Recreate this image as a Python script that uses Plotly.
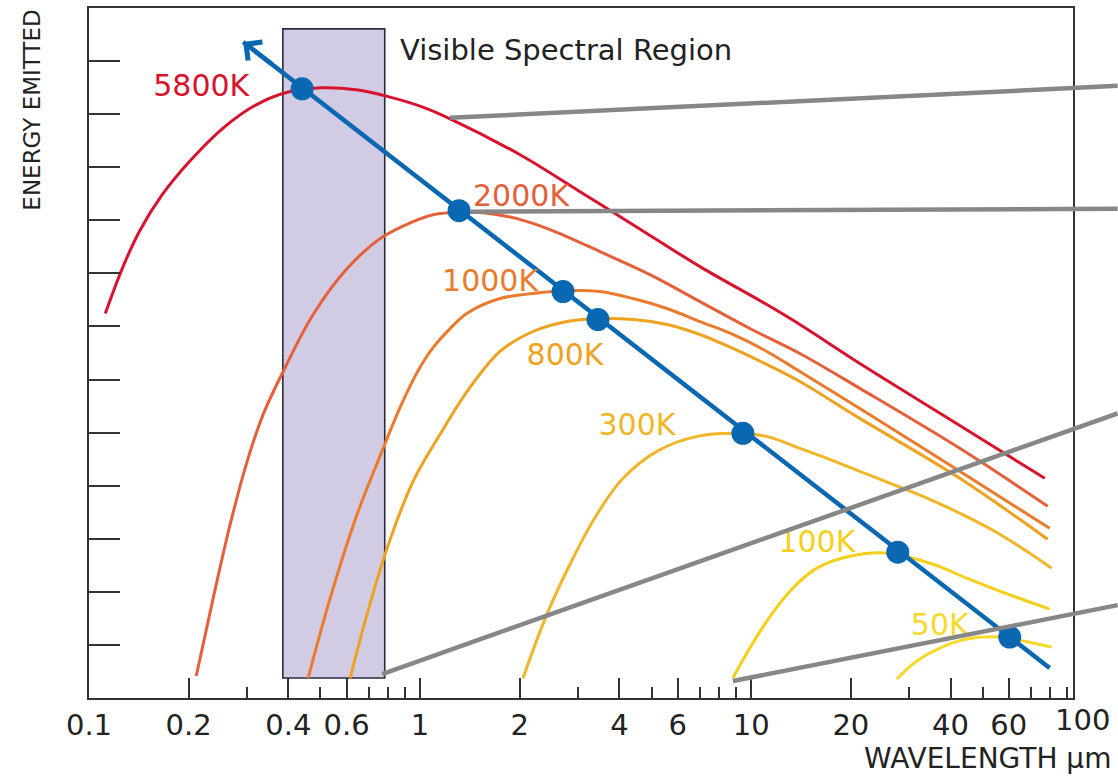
import numpy as np
import plotly.graph_objects as go

# ---------------- axes ----------------
X_RANGE_LOG = [-1.0, 1.972]      # log10(µm)
Y_RANGE = [0, 13]

major_ticks = [0.1, 0.2, 0.4, 0.6, 1, 2, 4, 6, 10, 20, 40, 60]
major_labels = ["0.1", "0.2", "0.4", "0.6", "1", "2", "4", "6", "10", "20", "40", "60"]
minor_ticks = [0.3, 0.5, 0.7, 0.8, 0.9, 3, 5, 7, 8, 9, 30, 50, 70, 80, 90]
extra_label_value = 100
extra_label_text = "100"
y_ticks = [1, 2, 3, 4, 5, 6, 7, 8, 9, 10, 11, 12]

# ---------------- black-body curves (wavelength µm, energy arbitrary) ----------------
wl_5800 = [0.112, 0.126, 0.1418, 0.1664, 0.2008, 0.2526, 0.3198, 0.4023, 0.506, 0.6409,
           0.8061, 1.014, 1.232, 2.004, 3.041, 4.395, 7.003, 11.15, 14.03, 21.29, 42.65, 77.0]
en_5800 = [7.244, 8.09, 8.786, 9.483, 10.103, 10.724, 11.176, 11.421, 11.496, 11.458,
           11.326, 11.138, 10.913, 10.235, 9.539, 8.918, 8.128, 7.413, 7.037, 6.303, 5.136, 4.139]

wl_2000 = [0.2108, 0.2372, 0.267, 0.3004, 0.3358, 0.3859, 0.4754, 0.602, 0.7572, 0.9525,
           1.094, 1.232, 1.549, 1.963, 2.469, 3.494, 4.946, 7.003, 9.91, 14.03, 21.29, 42.65, 78.6]
en_2000 = [0.414, 1.881, 3.274, 4.459, 5.343, 6.152, 7.225, 8.09, 8.655, 8.975,
           9.106, 9.144, 9.144, 9.031, 8.824, 8.41, 7.977, 7.469, 6.961, 6.491, 5.833, 4.704, 3.612]

wl_1000 = [0.4591, 0.5351, 0.6454, 0.7735, 0.8702, 0.9794, 1.094, 1.232, 1.387, 1.744,
           2.193, 2.778, 3.494, 4.395, 5.566, 7.003, 8.806, 11.15, 14.03, 21.29, 42.65, 79.7]
en_1000 = [0.376, 1.881, 3.462, 4.704, 5.475, 6.134, 6.6, 6.96, 7.25, 7.526,
           7.62, 7.676, 7.658, 7.526, 7.338, 7.093, 6.849, 6.529, 6.152, 5.456, 4.271, 3.198]

wl_800 = [0.6148, 0.6918, 0.795, 0.9525, 1.173, 1.387, 1.744, 2.193, 2.778, 3.494,
          4.395, 5.566, 7.003, 8.806, 11.15, 14.03, 21.29, 42.65, 78.6]
en_800 = [0.376, 1.58, 2.822, 4.083, 5.06, 5.776, 6.529, 6.905, 7.093, 7.15,
          7.131, 7.037, 6.849, 6.585, 6.284, 5.964, 5.268, 4.139, 2.992]

wl_300 = [2.046, 2.417, 2.896, 3.422, 4.101, 5.193, 6.858, 9.44, 11.39, 14.03,
          16.93, 21.29, 26.77, 34.63, 42.65, 56.32, 80.8]
en_300 = [0.376, 1.58, 2.634, 3.462, 4.139, 4.647, 4.929, 4.986, 4.911, 4.704,
          4.516, 4.271, 4.026, 3.744, 3.481, 3.086, 2.446]

wl_100 = [8.806, 9.91, 11.15, 13.09, 15.79, 19.86, 26.22, 35.35, 44.78, 56.32, 79.7]
en_100 = [0.376, 0.941, 1.449, 2.013, 2.446, 2.672, 2.728, 2.521, 2.258, 2.013, 1.675]

wl_50 = [27.53, 31.64, 37.12, 44.78, 56.32, 70.85, 80.8]
en_50 = [0.357, 0.696, 0.941, 1.11, 1.148, 1.035, 0.96]

curve_names = ["5800K", "2000K", "1000K", "800K", "300K", "100K", "50K"]
curve_colors = ["#d7132e", "#e4603b", "#ea7b2d", "#eea21f", "#f1b52a", "#f5cf1a", "#f6d92a"]
curve_wl = [wl_5800, wl_2000, wl_1000, wl_800, wl_300, wl_100, wl_50]
curve_en = [en_5800, en_2000, en_1000, en_800, en_300, en_100, en_50]

# label positions for each curve
label_wl = [0.2183, 2.018, 1.627, 2.74, 4.519, 15.79, 37.12]
label_en = [11.477, 9.407, 7.808, 6.416, 5.099, 2.897, 1.336]

# ---------------- Wien displacement line and peaks ----------------
peak_wl = [0.4403, 1.311, 2.702, 3.445, 9.44, 27.72, 60.38]
peak_en = [11.477, 9.182, 7.658, 7.131, 4.986, 2.747, 1.148]
wien_wl = [79.7, 0.2922]
wien_en = [0.564, 12.361]

# ---------------- visible band ----------------
visible_wl = [0.385, 0.782]
visible_en = [0.376, 12.606]
visible_text = "Visible Spectral Region"
visible_text_wl = 0.858
visible_text_en = 12.21

# ---------------- grey call-out lines (start inside plot, run off to the right) ----------------
callout_start_wl = [1.232, 1.416, 0.7679, 8.806]
callout_start_en = [10.931, 9.163, 0.4516, 0.320]
callout_end_wl = [127.9, 127.9, 127.9, 127.9]
callout_end_en = [11.533, 9.219, 5.362, 1.750]

FONT = "DejaVu Sans, Verdana, sans-serif"
FRAME = "#333333"
BLUE = "#0a67b2"
GREY = "#878787"
TEXT = "#222222"


def px_x(v):
    return (np.log10(v) - X_RANGE_LOG[0]) / (X_RANGE_LOG[1] - X_RANGE_LOG[0])


def px_y(v):
    return (v - Y_RANGE[0]) / (Y_RANGE[1] - Y_RANGE[0])


fig = go.Figure()

# visible band rectangle (below curves)
fig.add_shape(type="rect", xref="x", yref="y",
              x0=visible_wl[0], x1=visible_wl[1], y0=visible_en[0], y1=visible_en[1],
              fillcolor="#d1cbe4", line=dict(color="#2b2b3b", width=1.6), layer="below")

for name, col, wl, en in zip(curve_names, curve_colors, curve_wl, curve_en):
    fig.add_trace(go.Scatter(x=wl, y=en, mode="lines", name=name,
                             line=dict(color=col, width=3, shape="spline", smoothing=1.0),
                             hoverinfo="skip", showlegend=False))

# Wien line
fig.add_trace(go.Scatter(x=wien_wl, y=wien_en, mode="lines",
                         line=dict(color=BLUE, width=4.5), showlegend=False, hoverinfo="skip"))
fig.add_trace(go.Scatter(x=peak_wl, y=peak_en, mode="markers",
                         marker=dict(color=BLUE, size=23, line=dict(width=0)),
                         showlegend=False, hoverinfo="skip"))

# curve labels
fig.add_trace(go.Scatter(x=label_wl, y=label_en, mode="text", text=curve_names,
                         textposition="middle center",
                         textfont=dict(family=FONT, size=30, color=curve_colors),
                         showlegend=False, hoverinfo="skip"))

# arrow head at the end of the Wien line
tip_lx = np.log10(wien_wl[1])
tail_lx = np.log10(wien_wl[0])
back_lx = tip_lx + 0.09
back_en = np.interp(back_lx, [tip_lx, tail_lx], [wien_en[1], wien_en[0]])
fig.add_annotation(x=tip_lx, y=wien_en[1], ax=back_lx, ay=back_en,
                   xref="x", yref="y", axref="x", ayref="y", text="",
                   showarrow=True, arrowhead=4, arrowsize=1, arrowwidth=4.5,
                   arrowcolor=BLUE, standoff=0)

# grey call-out lines
for xs, ys, xe, ye in zip(callout_start_wl, callout_start_en, callout_end_wl, callout_end_en):
    fig.add_shape(type="line", xref="paper", yref="paper",
                  x0=px_x(xs), y0=px_y(ys), x1=px_x(xe), y1=px_y(ye),
                  line=dict(color=GREY, width=4.5), layer="above")

fig.add_annotation(x=np.log10(visible_text_wl), y=visible_text_en, xref="x", yref="y",
                   text=visible_text, showarrow=False, xanchor="left", yanchor="middle",
                   font=dict(family=FONT, size=29, color=TEXT))

# "100" tick label (just outside the frame)
fig.add_annotation(x=px_x(extra_label_value), y=-0.032, xref="paper", yref="paper",
                   text=extra_label_text, showarrow=False, xanchor="center", yanchor="middle",
                   font=dict(family=FONT, size=29, color=TEXT))

# axis titles
fig.add_annotation(x=1.0407, y=-0.087, xref="paper", yref="paper", text="WAVELENGTH μm",
                   showarrow=False, xanchor="right", yanchor="middle",
                   font=dict(family=FONT, size=28, color=TEXT))
fig.add_annotation(x=-0.058, y=0.8526, xref="paper", yref="paper", text="ENERGY EMITTED",
                   showarrow=False, textangle=-90, xanchor="center", yanchor="middle",
                   font=dict(family=FONT, size=23, color=TEXT))

fig.update_layout(
    width=1118, height=777,
    margin=dict(l=89, r=45, t=6, b=79),
    paper_bgcolor="white", plot_bgcolor="white",
    showlegend=False,
    xaxis=dict(type="log", range=X_RANGE_LOG, showgrid=False, zeroline=False,
               showline=True, linecolor=FRAME, linewidth=2, mirror=True,
               tickmode="array", tickvals=major_ticks, ticktext=major_labels,
               ticks="inside", ticklen=20, tickwidth=2, tickcolor=FRAME,
               tickfont=dict(family=FONT, size=29, color=TEXT),
               minor=dict(tickmode="array", tickvals=minor_ticks, ticks="inside",
                          ticklen=11, tickwidth=2, tickcolor=FRAME, showgrid=False)),
    yaxis=dict(range=Y_RANGE, showgrid=False, zeroline=False,
               showline=True, linecolor=FRAME, linewidth=2, mirror=True,
               tickmode="array", tickvals=y_ticks, showticklabels=False,
               ticks="inside", ticklen=31, tickwidth=2, tickcolor=FRAME),
)

fig.write_html("out.html", config={"displayModeBar": False},
               post_script="document.body.style.margin='0';document.body.style.overflow='hidden';")
